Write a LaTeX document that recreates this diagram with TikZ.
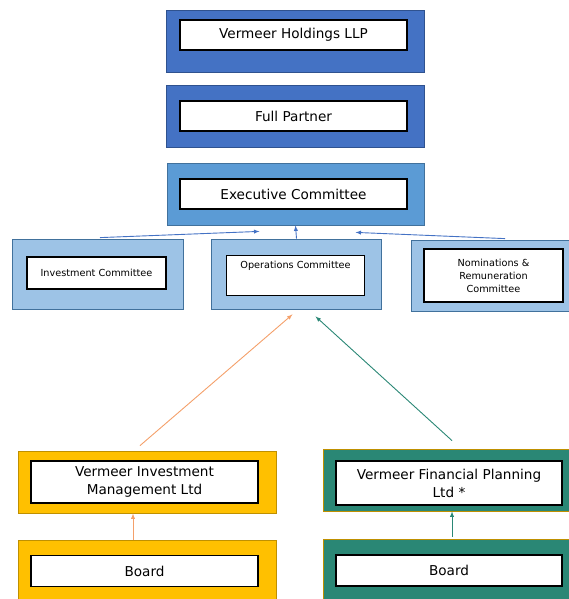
\documentclass[tikz,border=0pt]{standalone}
\usepackage{fontspec}
\setmainfont{DejaVu Sans}
\usetikzlibrary{arrows.meta,calc,positioning}
\definecolor{darkblue}{HTML}{4472C4}
\definecolor{darkblueline}{HTML}{2F528F}
\definecolor{midblue}{HTML}{5B9BD5}
\definecolor{lightblue}{HTML}{9DC3E6}
\definecolor{blueline}{HTML}{41719C}
\definecolor{gold}{HTML}{FFC000}
\definecolor{goldline}{HTML}{BF9000}
\definecolor{teal}{HTML}{2A8775}
\definecolor{orangearrow}{HTML}{F4A06A}

\tikzset{
  outerbox/.style={draw, line width=0.8pt, inner sep=0pt},
  innerbox/.style={draw=black, fill=white, line width=1.2pt, inner sep=2pt,
    align=center, font=\fontsize{13.6}{18}\selectfont},
  smallbox/.style={innerbox, font=\fontsize{9.7}{13}\selectfont},
}

\begin{document}
\begin{tikzpicture}[x=1pt,y=-1pt]
        \useasboundingbox (0,0) rectangle (569,599);
        %Top boxes
        \node[outerbox, fill=darkblue, draw=darkblueline, minimum width=258, minimum height=62] (holdings) at (295,41) {};
        \node[innerbox, minimum width=227, minimum height=30] (holdingsT) at (293.5,35) {Vermeer Holdings LLP};
        \node[outerbox, fill=darkblue, draw=darkblueline, minimum width=258, minimum height=62] (partner) at (295,116) {};
        \node[innerbox, minimum width=227, minimum height=30] (partnerT) at (293.5,116) {Full Partner};
        \node[outerbox, fill=midblue, draw=blueline, minimum width=257, minimum height=62] (exec) at (295.5,194) {};
        \node[innerbox, minimum width=227, minimum height=30] (execT) at (293.5,194) {Executive Committee};
        %Committees
        \node[outerbox, fill=lightblue, draw=blueline, minimum width=171, minimum height=70] (invest) at (98,274) {};
        \node[smallbox, minimum width=139, minimum height=32] (investT) at (96.5,273) {Investment Committee};
        \node[outerbox, fill=lightblue, draw=blueline, minimum width=170, minimum height=70] (ops) at (296.5,274) {};
        \node[smallbox, anchor=north, minimum width=138, inner ysep=5pt, text height=8pt, text depth=22pt] (opsT) at (295.5,255) {Operations Committee};
        \node[outerbox, fill=lightblue, draw=blueline, minimum width=162, minimum height=71] (nom) at (492,275.5) {};
        \node[smallbox, minimum width=139, minimum height=53] (nomT) at (493.5,275.5) {Nominations \&\\Remuneration\\Committee};
        %Subsidiaries
        \node[outerbox, fill=gold, draw=goldline, minimum width=258, minimum height=62] (vim) at (147,482) {};
        \node[innerbox, minimum width=227, minimum height=42] (vimT) at (144.5,482) {Vermeer Investment\\Management Ltd};
        \node[outerbox, fill=gold, draw=goldline, minimum width=258, minimum height=70] (boardL) at (147,575) {};
        \node[innerbox, minimum width=227, minimum height=31] (boardLT) at (144.5,571) {Board};
        \node[outerbox, fill=teal, draw=goldline, minimum width=250, minimum height=62] (vfp) at (448,480) {};
        \node[innerbox, minimum width=226, minimum height=44] (vfpT) at (449,483) {Vermeer Financial Planning\\Ltd *};
        \node[outerbox, fill=teal, draw=goldline, minimum width=250, minimum height=70] (boardR) at (448,574) {};
        \node[innerbox, minimum width=226, minimum height=31] (boardRT) at (449,570.5) {Board};
        %Arrow ends
        \coordinate (execL) at ($(exec.south)+(-36,6)$);
        \coordinate (execR) at ($(exec.south)+(60,7)$);
        \coordinate (opsL) at ($(ops.south)+(-4,5)$);
        \coordinate (opsR) at ($(ops.south)+(19,7)$);
        \coordinate (vimTop) at ($(vim.north)+(-7,-5)$);
        \coordinate (vfpTop) at ($(vfp.north)+(4,-8)$);
        %Draw arrows
        \draw[-latex, darkblue, line width=0.9pt] ($(invest.north)+(2,-1)$) -- (execL);
        \draw[-latex, darkblue, line width=0.9pt] (ops.north) -- (exec.south);
        \draw[-latex, darkblue, line width=0.9pt] ($(nom.north)+(13,-1)$) -- (execR);
        \draw[-latex, orangearrow, line width=0.9pt] (vimTop) -- (opsL);
        \draw[-latex, teal, line width=0.9pt] (vfpTop) -- (opsR);
        \draw[-latex, orangearrow, line width=0.9pt] ($(boardL.north)+(-14,0)$) -- ($(vim.south)+(-14,0)$);
        \draw[-latex, teal, line width=0.9pt] ($(boardR.north)+(4,-2)$) -- ($(vfp.south)+(4,0)$);
\end{tikzpicture}
\end{document}
